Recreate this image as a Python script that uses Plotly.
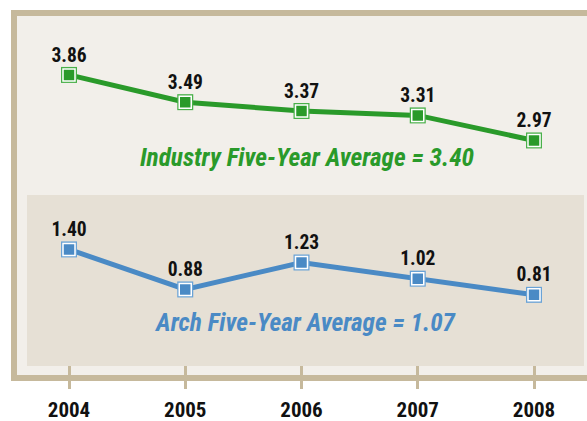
import plotly.graph_objects as go

years = [2004, 2005, 2006, 2007, 2008]
industry = [3.86, 3.49, 3.37, 3.31, 2.97]
arch = [1.40, 0.88, 1.23, 1.02, 0.81]
tick_labels = ["2004", "2005", "2006", "2007", "2008"]
industry_avg_label = "Industry Five-Year Average = 3.40"
arch_avg_label = "Arch Five-Year Average = 1.07"

W, H = 587, 421
MB = 32
PH = H - MB

GREEN = "#2a9a2a"
GREEN_L = "#4ab04a"
BLUE = "#4a8ac5"
BLUE_L = "#6aa3d6"
TAN = "#c6b99c"
BG = "#f2efea"
INNER = "#e6e0d5"
FONT = "Roboto Condensed, Open Sans Condensed, sans-serif"


def px(x):
    return x / W


def py(y):
    return (PH - y) / PH


fig = go.Figure()

for vals, col, col_l, yax in [(industry, GREEN, GREEN_L, "y"), (arch, BLUE, BLUE_L, "y2")]:
    fig.add_trace(go.Scatter(
        x=years, y=vals, yaxis=yax, mode="lines+markers",
        line=dict(color=col, width=5),
        marker=dict(symbol="square", size=16, color=col_l),
        hoverinfo="skip", showlegend=False, cliponaxis=False))
    fig.add_trace(go.Scatter(
        x=years, y=vals, yaxis=yax, mode="markers+text",
        marker=dict(symbol="square", size=12, color=col, line=dict(color="white", width=1.5)),
        text=[f"{v:.2f}" for v in vals], textposition="top center",
        textfont=dict(family=FONT, size=19.5, color="#111111", weight="bold"),
        hoverinfo="skip", showlegend=False, cliponaxis=False))

shapes = [
    dict(type="rect", xref="paper", yref="paper", layer="below",
         x0=px(14), x1=px(620), y0=py(378), y1=py(13),
         fillcolor=BG, line=dict(color=TAN, width=6)),
    dict(type="rect", xref="paper", yref="paper", layer="below",
         x0=px(27), x1=px(584), y0=py(366), y1=py(195),
         fillcolor=INNER, line=dict(width=0)),
]

annotations = [
    dict(text=industry_avg_label, xref="paper", yref="paper", x=px(307), y=py(157),
         xanchor="center", yanchor="middle",
         showarrow=False, font=dict(family=FONT, size=25.3, color=GREEN, weight="bold", style="italic")),
    dict(text=arch_avg_label, xref="paper", yref="paper", x=px(305.5), y=py(322),
         xanchor="center", yanchor="middle",
         showarrow=False, font=dict(family=FONT, size=25.3, color=BLUE, weight="bold", style="italic")),
]

x0_year = 2004 - 69 / 116.25
x1_year = 2004 + (W - 69) / 116.25

fig.update_layout(
    width=W, height=H,
    margin=dict(l=0, r=0, t=0, b=MB, pad=0, autoexpand=False),
    paper_bgcolor="white", plot_bgcolor="rgba(0,0,0,0)",
    shapes=shapes, annotations=annotations,
    xaxis=dict(range=[x0_year, x1_year], tickvals=years, ticktext=tick_labels,
               ticks="inside", ticklen=23, tickwidth=3, tickcolor=TAN,
               showgrid=False, zeroline=False, showline=False, automargin=False,
               tickfont=dict(family=FONT, size=21, color="#111111", weight="bold"),
               ticklabelstandoff=6, fixedrange=True),
    yaxis=dict(range=[-0.407, 4.878], visible=False, fixedrange=True, automargin=False),
    yaxis2=dict(range=[-0.413, 4.639], visible=False, overlaying="y", fixedrange=True, automargin=False),
)

fig.write_html("out.html")
